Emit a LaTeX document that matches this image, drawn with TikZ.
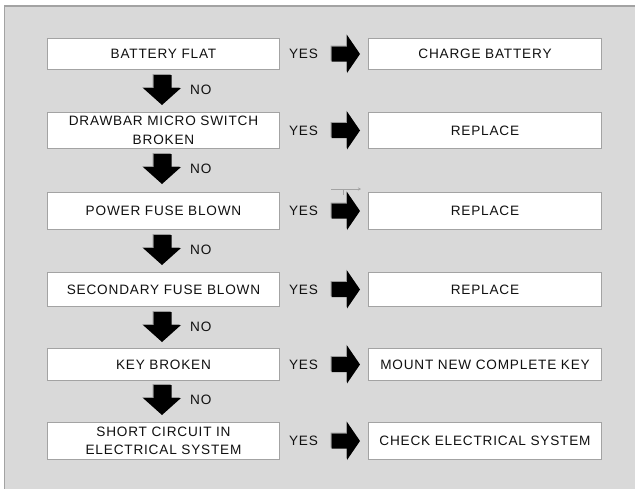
\documentclass[tikz,border=0pt]{standalone}
\usepackage{fontspec}
\setmainfont{Liberation Sans}[LetterSpace=6,WordSpace=0.55]
\usetikzlibrary{arrows.meta}
\definecolor{bggray}{HTML}{D9D9D9}
\definecolor{framegray}{HTML}{A3A3A3}
\definecolor{boxgray}{HTML}{A3A3A3}
\definecolor{txt}{HTML}{101010}
\definecolor{bevel}{HTML}{9A9A9A}
\newcommand\dnarr[1]{%
  \fill[bevel] (152.5,{#1-1}) -- (170.5,{#1-1}) -- (170.5,{#1+12}) -- (180,{#1+12}) -- (162,{#1+29}) -- (142,{#1+12}) -- (152.5,{#1+12}) -- cycle;
  \fill[black] (153.5,#1) -- (171.5,#1) -- (171.5,{#1+13}) -- (181,{#1+13}) -- (162,{#1+30}) -- (143,{#1+13}) -- (153.5,{#1+13}) -- cycle;}
\newcommand\rtarr[1]{%
  \fill[bevel] (330.5,{#1-8.5}) -- (346,{#1-8.5}) -- (346,{#1-20}) -- (359,{#1-1}) -- (346,{#1+18}) -- (346,{#1+6.5}) -- (330.5,{#1+6.5}) -- cycle;
  \fill[black] (331.5,{#1-7.5}) -- (347,{#1-7.5}) -- (347,{#1-19}) -- (360,#1) -- (347,{#1+19}) -- (347,{#1+7.5}) -- (331.5,{#1+7.5}) -- cycle;}
\begin{document}
\begin{tikzpicture}[x=1pt,y=-1pt,
  box/.style={draw=boxgray, line width=1.7pt, fill=white, inner sep=0pt,
    align=center, text=txt, font=\fontsize{13.6}{18.5}\selectfont},
  lbox/.style={box, minimum width=232pt, text width=228pt},
  rbox/.style={box, minimum width=233pt, text width=229pt},
  lbl/.style={text=txt, font=\fontsize{13.6}{16}\selectfont, inner sep=0pt}]
\useasboundingbox (0,0) rectangle (635,488);
\fill[bggray] (4.5,6) rectangle (640,495);
\draw[framegray, line width=1.5pt] (4.5,495) -- (4.5,6) -- (640,6);
% left boxes
\node[lbox, minimum height=31pt] (q1) at (163.5,54) {BATTERY FLAT};
\node[lbox, minimum height=36pt] (q2) at (163.5,130.5) {DRAWBAR MICRO SWITCH\\BROKEN};
\node[lbox, minimum height=37pt] (q3) at (163.5,211) {POWER FUSE BLOWN};
\node[lbox, minimum height=34pt] (q4) at (163.5,289.5) {SECONDARY FUSE BLOWN};
\node[lbox, minimum height=32pt] (q5) at (163.5,364.5) {KEY BROKEN};
\node[lbox, minimum height=37pt] (q6) at (163.5,441) {SHORT CIRCUIT IN\\ELECTRICAL SYSTEM};
% right boxes
\node[rbox, minimum height=31pt] (a1) at (485,54) {CHARGE BATTERY};
\node[rbox, minimum height=36pt] (a2) at (485,130.5) {REPLACE};
\node[rbox, minimum height=37pt] (a3) at (485,211) {REPLACE};
\node[rbox, minimum height=34pt] (a4) at (485,289.5) {REPLACE};
\node[rbox, minimum height=32pt] (a5) at (485,364.5) {MOUNT NEW COMPLETE KEY};
\node[rbox, minimum height=37pt] (a6) at (485,441) {CHECK ELECTRICAL SYSTEM};
% YES labels and arrows
\foreach \i/\c in {1/54,2/130.5,3/211,4/289.5,5/364.5,6/441}{
  \node[lbl] (y\i) at (303.5,\c) {YES};
  \rtarr{\c}
}
% NO labels and arrows
\foreach \i/\t in {1/75,2/154,3/235,4/312,5/385}{
  \dnarr{\t}
  \node[lbl, anchor=west] (n\i) at (190,{\t+15}) {NO};
}
% stray thin arrow above row 3
\coordinate (ta) at (331,189);
\coordinate (tb) at (361,189);
\coordinate (tc) at (343,189);
\coordinate (td) at (343,195);
\draw[boxgray, line width=1pt, -{Stealth[length=3pt,width=3pt]}] (ta) -- (tb);
\draw[boxgray, line width=1pt] (tc) -- (td);
\end{tikzpicture}
\end{document}
